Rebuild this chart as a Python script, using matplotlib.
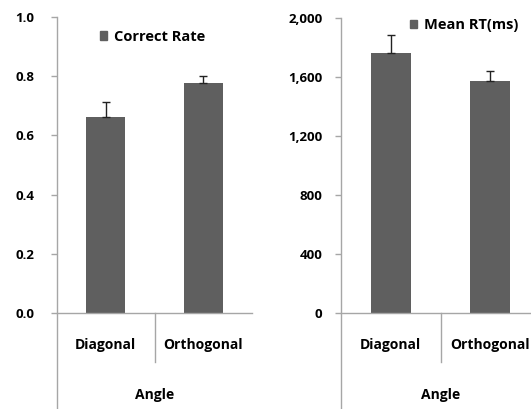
import matplotlib.pyplot as plt
from matplotlib.patches import Patch

# datos de las dos figuras
categorias = ["Diagonal", "Orthogonal"]
tasa_correcta = [0.662, 0.776]
tasa_error = [0.051, 0.023]
tiempo_medio = [1761, 1573]
tiempo_error = [124, 70]

color_barra = "#5f5f5f"
color_eje = "#a6a6a6"

plt.rcParams["font.family"] = ["Open Sans", "DejaVu Sans"]
plt.rcParams["font.weight"] = "bold"

fig = plt.figure(figsize=(5.31, 4.09), dpi=100)
ax1 = fig.add_axes([57 / 531, 96 / 409, 195 / 531, 296 / 409])
ax2 = fig.add_axes([341 / 531, 96 / 409, 199 / 531, 295 / 409])


def dibujar(ax, valores, errores, ymax, paso, etiqueta, leyenda_xy, fmt, pad):
    x = list(range(len(categorias)))
    ax.bar(x, valores, width=0.4, color=color_barra, zorder=2)
    ax.errorbar(x, valores, yerr=[[0] * len(errores), errores], fmt="none",
                ecolor="#222222", elinewidth=1, capsize=3, capthick=1, zorder=3)
    ax.set_xlim(-0.5, len(categorias) - 0.5)
    ax.set_ylim(0, ymax)
    ticks = [i * paso for i in range(int(round(ymax / paso)) + 1)]
    ax.set_yticks(ticks)
    ax.set_yticklabels([fmt(t) for t in ticks])
    ax.set_xticks([])
    ax.tick_params(axis="y", length=4.3, width=1, color=color_eje,
                   pad=pad, labelsize=9.5)
    for s in ["top", "right", "left"]:
        ax.spines[s].set_visible(False)
    ax.spines["bottom"].set_color(color_eje)
    ax.spines["bottom"].set_linewidth(1)

    # eje vertical que baja hasta el borde, y separador de categorias
    tr = ax.get_xaxis_transform()
    ax.plot([-0.5, -0.5], [1, -0.4], transform=tr, color=color_eje,
            lw=1, clip_on=False)
    ax.plot([0.5, 0.5], [0, -0.166], transform=tr, color=color_eje,
            lw=1, clip_on=False)
    for i, c in enumerate(categorias):
        ax.text(i, -0.108, c, transform=tr, ha="center", va="center",
                fontsize=10, fontweight="bold")
    ax.text(0.5, -0.277, "Angle", transform=tr, ha="center", va="center",
            fontsize=10, fontweight="bold")

    ax.legend(handles=[Patch(color=color_barra, label=etiqueta)],
              loc="center left", bbox_to_anchor=leyenda_xy, frameon=False,
              handlelength=0.5, handleheight=0.55, handletextpad=0.45,
              borderpad=0, borderaxespad=0, prop={"size": 10.5, "weight": "bold"})


dibujar(ax1, tasa_correcta, tasa_error, 1.0, 0.2, "Correct Rate",
        (0.2205, 0.934), lambda t: f"{t:.1f}", 12)
dibujar(ax2, tiempo_medio, tiempo_error, 2000, 400, "Mean RT(ms)",
        (0.347, 0.976), lambda t: f"{int(t):,}", 9)

fig.savefig("out.png", dpi=100, facecolor="white")
